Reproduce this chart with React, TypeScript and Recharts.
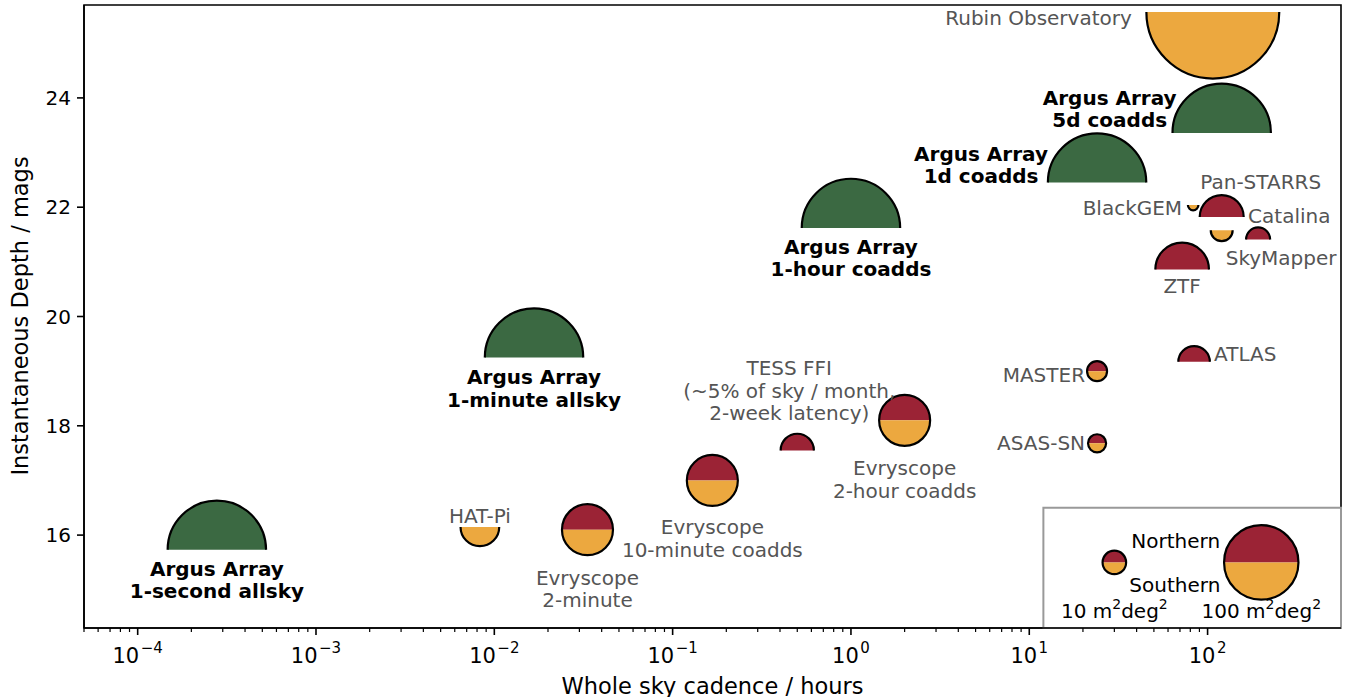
import { ScatterChart, Scatter, XAxis, YAxis, ReferenceArea } from "recharts";

// survey name, whole-sky cadence (hours), depth (mag), etendue (m^2 deg^2), hemisphere
const surveys = [
  "Argus 1-second", "Argus 1-minute", "Argus 1-hour", "Argus 1-day", "Argus 5-day",
  "Rubin Observatory", "HAT-Pi", "Evryscope 2-minute", "Evryscope 10-minute", "Evryscope 2-hour",
  "TESS FFI", "MASTER", "ASAS-SN", "ATLAS", "ZTF", "Pan-STARRS", "BlackGEM", "SkyMapper", "Catalina",
];
const cadenceHours = [0.000278, 0.0167, 1, 24, 120, 107, 0.0083, 0.0333, 0.167, 2, 0.5, 24, 24, 84, 72, 120, 83, 120, 192];
const depthMags = [15.73, 19.25, 21.62, 22.45, 23.36, 25.57, 16.15, 16.1, 17.0, 18.1, 17.55, 19.0, 17.68, 19.17, 20.86, 21.82, 22.04, 21.58, 21.41];
const etendue = [175, 175, 175, 175, 175, 319, 27, 47, 47, 47, 20, 7.2, 5.9, 18, 52, 35, 2, 8.7, 10.5];
const hemisphere = ["N", "N", "N", "N", "N", "S", "S", "NS", "NS", "NS", "N", "NS", "NS", "N", "N", "N", "S", "S", "N"];

const labelText: Record<string, string[]> = {
  "Argus 1-second": ["Argus Array", "1-second allsky"],
  "Argus 1-minute": ["Argus Array", "1-minute allsky"],
  "Argus 1-hour": ["Argus Array", "1-hour coadds"],
  "Argus 1-day": ["Argus Array", "1d coadds"],
  "Argus 5-day": ["Argus Array", "5d coadds"],
  "Rubin Observatory": ["Rubin Observatory"],
  "HAT-Pi": ["HAT-Pi"],
  "Evryscope 2-minute": ["Evryscope", "2-minute"],
  "Evryscope 10-minute": ["Evryscope", "10-minute coadds"],
  "Evryscope 2-hour": ["Evryscope", "2-hour coadds"],
  "TESS FFI": ["TESS FFI", "(~5% of sky / month,", "2-week latency)"],
  MASTER: ["MASTER"],
  "ASAS-SN": ["ASAS-SN"],
  ATLAS: ["ATLAS"],
  ZTF: ["ZTF"],
  "Pan-STARRS": ["Pan-STARRS"],
  BlackGEM: ["BlackGEM"],
  SkyMapper: ["SkyMapper"],
  Catalina: ["Catalina"],
};

// legend markers
const legendEtendue = [10, 100];
const legendCadence = [30, 200];
const legendDepth = 15.5;

const majorTicks = [1e-4, 1e-3, 1e-2, 1e-1, 1, 10, 100];
const yTicks = [16, 18, 20, 22, 24];

// label offsets in px from marker centre: dx, dy (first line), anchor
const labelPos: Record<string, [number, number, "start" | "middle" | "end"]> = {
  "Argus 1-second": [0, 19, "middle"],
  "Argus 1-minute": [0, 20, "middle"],
  "Argus 1-hour": [0, 19, "middle"],
  "Argus 1-day": [-116, -29, "middle"],
  "Argus 5-day": [-112, -35, "middle"],
  "Rubin Observatory": [-81, 6, "end"],
  "HAT-Pi": [0, -11, "middle"],
  "Evryscope 2-minute": [0, 48, "middle"],
  "Evryscope 10-minute": [0, 47, "middle"],
  "Evryscope 2-hour": [0, 48, "middle"],
  "TESS FFI": [-8, -82, "middle"],
  MASTER: [-12, 4, "end"],
  "ASAS-SN": [-12, 0, "end"],
  ATLAS: [20, -8, "start"],
  ZTF: [0, 16, "middle"],
  "Pan-STARRS": [39, -35, "middle"],
  BlackGEM: [-11, 3, "end"],
  SkyMapper: [4, 28, "start"],
  Catalina: [-10, -23, "start"],
};

const GREEN = "#3b6942";
const RED = "#9b2335";
const ORANGE = "#eca83f";
const GREY = "#555555";
const FONT = "DejaVu Sans";
const R_SCALE = 3.72;
const LINE = 22.5;

const minorTicks = majorTicks
  .map((m) => m / 10)
  .concat([1000])
  .flatMap((base) => [2, 3, 4, 5, 6, 7, 8, 9].map((k) => k * base))
  .filter((v) => v >= 4.99e-5 && v <= 560);
const xTicks = [...majorTicks, ...minorTicks].sort((a, b) => a - b);

const points = surveys.map((name, i) => ({
  name,
  x: cadenceHours[i],
  y: depthMags[i],
  e: etendue[i],
  hemi: hemisphere[i],
}));
const legendPoints = legendEtendue.map((e, i) => ({ x: legendCadence[i], y: legendDepth, e, hemi: "NS" }));

const half = (cx: number, cy: number, r: number, top: boolean, close: boolean) =>
  `M${cx - r},${cy} A${r},${r} 0 0 ${top ? 1 : 0} ${cx + r},${cy}${close ? " Z" : ""}`;

function Marker({ cx, cy, r, hemi, topFill }: any) {
  const top = hemi !== "S";
  const bottom = hemi !== "N";
  return (
    <g>
      {top && <path d={half(cx, cy, r, true, true)} fill={topFill} />}
      {bottom && <path d={half(cx, cy, r, false, true)} fill={ORANGE} />}
      {top && bottom ? (
        <circle cx={cx} cy={cy} r={r} fill="none" stroke="#000" strokeWidth={2.2} />
      ) : (
        <path d={half(cx, cy, r, top, false)} fill="none" stroke="#000" strokeWidth={2.2} />
      )}
    </g>
  );
}

function SurveyShape(props: any) {
  const { cx, cy, payload } = props;
  const argus = payload.name.startsWith("Argus");
  const r = R_SCALE * Math.sqrt(payload.e);
  const [dx, dy, anchor] = labelPos[payload.name];
  return (
    <g>
      <Marker cx={cx} cy={cy} r={r} hemi={payload.hemi} topFill={argus ? GREEN : RED} />
      <text
        x={cx + dx}
        y={cy + dy}
        textAnchor={anchor}
        dominantBaseline="central"
        fontFamily={FONT}
        fontSize={20}
        fontWeight={argus ? "bold" : "normal"}
        fill={argus ? "#000" : GREY}
      >
        {labelText[payload.name].map((line, i) => (
          <tspan key={i} x={cx + dx} dy={i === 0 ? 0 : LINE}>
            {line}
          </tspan>
        ))}
      </text>
    </g>
  );
}

const Sq = ({ children }: any) => (
  <tspan dy={-9} fontSize={14}>
    {children}
  </tspan>
);

function LegendShape(props: any) {
  const { cx, cy, payload } = props;
  const r = R_SCALE * Math.sqrt(payload.e);
  const small = payload.e < 50;
  return (
    <g fontFamily={FONT} fontSize={20} fill="#000">
      <Marker cx={cx} cy={cy} r={r} hemi="NS" topFill={RED} />
      {small && (
        <>
          <text x={cx + 17} y={cy - 21} dominantBaseline="central">Northern</text>
          <text x={cx + 15} y={cy + 23} dominantBaseline="central">Southern</text>
        </>
      )}
      <text x={cx} y={cy + 56} textAnchor="middle">
        {payload.e} m<Sq>2</Sq>
        <tspan dy={9}>deg</tspan>
        <Sq>2</Sq>
      </text>
    </g>
  );
}

function XTick(props: any) {
  const { x, y, payload } = props;
  const v = payload.value;
  const major = majorTicks.includes(v);
  const exp = Math.round(Math.log10(v));
  return (
    <g>
      <line x1={x} x2={x} y1={y} y2={y + (major ? 7 : 4)} stroke="#000" strokeWidth={major ? 1.6 : 1.2} />
      {major && (
        <text x={x} y={y + 35} textAnchor="middle" fontFamily={FONT} fontSize={21} fill="#000">
          10
          <tspan dx={1.5} dy={-10} fontSize={15}>
            {exp < 0 ? `\u2212${-exp}` : `${exp}`}
          </tspan>
        </text>
      )}
    </g>
  );
}

export default function App() {
  return (
    <div style={{ position: "absolute", left: 0, top: 0, background: "#fff" }}>
      <ScatterChart width={1353} height={697} margin={{ top: 5, right: 12, bottom: 0, left: 0 }}>
        <XAxis
          dataKey="x"
          type="number"
          scale="log"
          domain={[5e-5, 560]}
          allowDataOverflow
          ticks={xTicks}
          interval={0}
          tick={(p: any) => <XTick {...p} />}
          tickLine={false}
          tickSize={0}
          tickMargin={0}
          height={69}
          axisLine={{ stroke: "#000", strokeWidth: 1.6 }}
          label={(p: any) => {
            const vb = p.viewBox;
            return (
              <text x={vb.x + vb.width / 2} y={694} textAnchor="middle" fontFamily={FONT} fontSize={22.5} fill="#000">
                Whole sky cadence / hours
              </text>
            );
          }}
        />
        <YAxis
          dataKey="y"
          type="number"
          domain={[14.3, 25.7]}
          allowDataOverflow
          ticks={yTicks}
          width={84}
          tickSize={7}
          tickMargin={6}
          tick={{ fontSize: 20, fill: "#000", fontFamily: FONT }}
          tickLine={{ stroke: "#000", strokeWidth: 1.6 }}
          axisLine={{ stroke: "#000", strokeWidth: 1.6 }}
          label={() => (
            <text
              x={28}
              y={316}
              transform="rotate(-90, 28, 316)"
              textAnchor="middle"
              fontFamily={FONT}
              fontSize={22.5}
              fill="#000"
            >
              Instantaneous Depth / mags
            </text>
          )}
        />
        <ReferenceArea x1={5e-5} x2={560} y1={14.3} y2={25.7} fill="none" stroke="#000" strokeWidth={1.6} ifOverflow="visible" />
        <ReferenceArea x1={12} x2={560} y1={14.3} y2={16.5} fill="#fff" fillOpacity={1} stroke="#999" strokeWidth={2} ifOverflow="visible" />
        <Scatter data={points} shape={(p: any) => <SurveyShape {...p} />} isAnimationActive={false} />
        <Scatter data={legendPoints} shape={(p: any) => <LegendShape {...p} />} isAnimationActive={false} />
      </ScatterChart>
    </div>
  );
}
